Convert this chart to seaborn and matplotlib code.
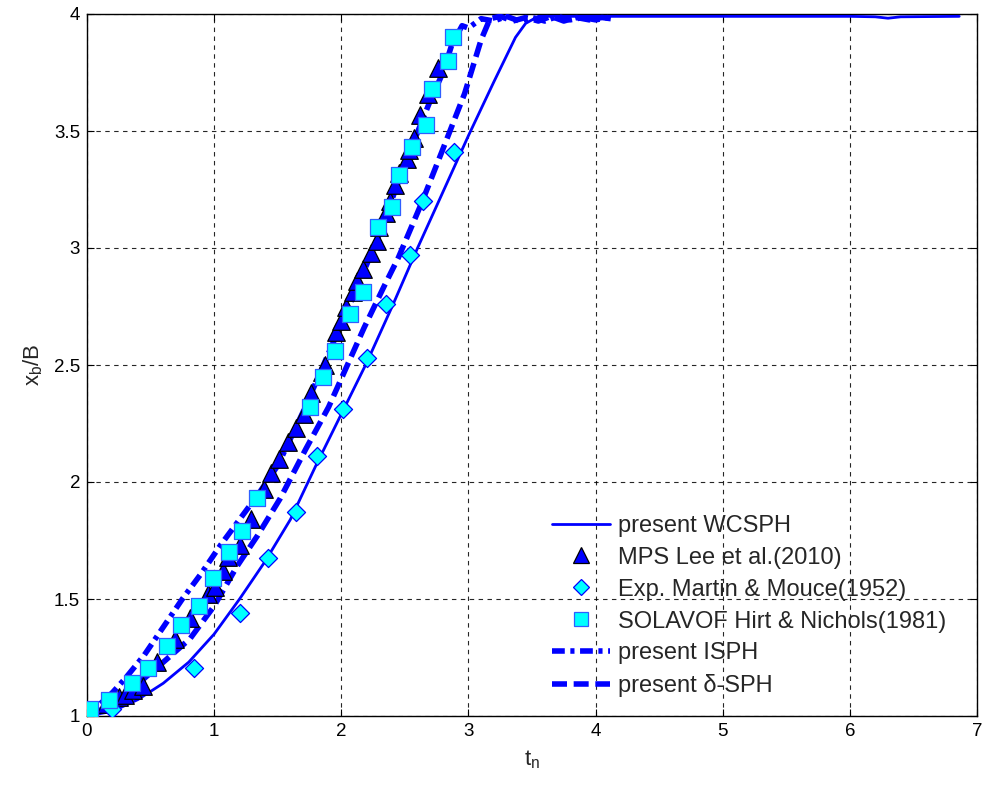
import matplotlib
matplotlib.use("Agg")
import matplotlib.pyplot as plt
import seaborn as sns
import pandas as pd
from matplotlib.lines import Line2D
from matplotlib.ticker import FuncFormatter

# ---------------- data ----------------
wcsph_x = [0, 0.2, 0.4, 0.6, 0.8, 1.0, 1.2, 1.4, 1.6, 1.8, 2.0, 2.2, 2.4, 2.6, 2.8, 3.0, 3.2, 3.37, 3.45, 3.55,
           4.0, 5.0, 6.0, 6.2, 6.3, 6.4, 6.86]
wcsph_y = [1.00, 1.02, 1.07, 1.14, 1.23, 1.35, 1.50, 1.66, 1.84, 2.07, 2.29, 2.51, 2.75, 3.00, 3.24, 3.48, 3.71, 3.90, 3.96, 3.99,
           3.99, 3.99, 3.99, 3.988, 3.982, 3.988, 3.99]

isph_x = [0, 0.1, 0.2, 0.3, 0.45, 0.6, 0.75, 0.9, 1.05, 1.2, 1.35, 1.5, 1.7, 1.9, 2.1, 2.3, 2.5, 2.7, 2.8, 2.87, 2.95,
          3.0, 3.05, 3.1, 3.2, 3.3, 3.4, 3.5, 3.6, 3.7, 3.8, 3.9, 4.0, 4.1]
isph_y = [1.0, 1.05, 1.10, 1.16, 1.26, 1.38, 1.50, 1.61, 1.73, 1.84, 1.95, 2.07, 2.30, 2.55, 2.80, 3.06, 3.36, 3.63, 3.75, 3.87, 3.95,
          3.94, 3.96, 3.98, 3.97, 3.99, 3.97, 3.985, 3.97, 3.99, 3.975, 3.985, 3.975, 3.985]

dsph_x = [0, 0.15, 0.34, 0.6, 0.81, 1.0, 1.18, 1.34, 1.52, 1.72, 1.90, 2.04, 2.18, 2.34, 2.45, 2.63, 2.79, 2.97, 3.10, 3.17,
          3.25, 3.35, 3.45, 3.55, 3.65, 3.75, 3.85, 3.95, 4.05, 4.12]
dsph_y = [1.0, 1.04, 1.11, 1.23, 1.33, 1.47, 1.64, 1.77, 1.93, 2.14, 2.32, 2.49, 2.66, 2.84, 2.96, 3.19, 3.41, 3.66, 3.89, 3.98,
          3.99, 3.97, 3.985, 3.97, 3.99, 3.97, 3.985, 3.975, 3.985, 3.98]

mps_x = [0.02, 0.15, 0.25, 0.30, 0.36, 0.44, 0.55, 0.69, 0.81, 0.95, 1.01, 1.07, 1.11, 1.20, 1.29, 1.39, 1.45, 1.51,
         1.58, 1.64, 1.71, 1.76, 1.85, 1.87, 1.96, 2.00, 2.04, 2.09, 2.12, 2.17, 2.23, 2.28, 2.30, 2.35, 2.38, 2.42,
         2.45, 2.52, 2.53, 2.57, 2.62, 2.68, 2.76]
mps_y = [1.01, 1.05, 1.08, 1.09, 1.11, 1.13, 1.23, 1.33, 1.42, 1.52, 1.55, 1.62, 1.68, 1.73, 1.84, 1.97, 2.04, 2.10,
         2.17, 2.23, 2.29, 2.38, 2.47, 2.50, 2.64, 2.69, 2.75, 2.81, 2.86, 2.91, 2.98, 3.03, 3.09, 3.15, 3.20, 3.27,
         3.32, 3.38, 3.42, 3.47, 3.57, 3.66, 3.77]

exp_x = [0.2, 0.84, 1.2, 1.42, 1.64, 1.81, 2.01, 2.20, 2.35, 2.54, 2.64, 2.89]
exp_y = [1.03, 1.205, 1.44, 1.675, 1.87, 2.11, 2.31, 2.53, 2.76, 2.97, 3.20, 3.41]

vof_x = [0.02, 0.17, 0.355, 0.48, 0.63, 0.74, 0.88, 0.99, 1.12, 1.22, 1.34, 1.75, 1.86, 1.95, 2.07, 2.17, 2.29,
         2.40, 2.45, 2.56, 2.67, 2.71, 2.84, 2.88]
vof_y = [1.03, 1.07, 1.14, 1.205, 1.30, 1.39, 1.47, 1.59, 1.70, 1.79, 1.93, 2.32, 2.45, 2.56, 2.72, 2.81, 3.09,
         3.175, 3.31, 3.43, 3.525, 3.68, 3.80, 3.90]

labels = ["present WCSPH", "MPS Lee et al.(2010)", "Exp. Martin & Mouce(1952)",
          "SOLAVOF Hirt & Nichols(1981)", "present ISPH", "present δ-SPH"]
x_ticks = [0, 1, 2, 3, 4, 5, 6, 7]
y_ticks = [1, 1.5, 2, 2.5, 3, 3.5, 4]

# ---------------- style ----------------
sns.set_theme(style="white")
plt.rcParams['font.family'] = ['Liberation Sans', 'DejaVu Sans']
plt.rcParams['mathtext.default'] = 'regular'

BLUE = "#0000FF"
CYAN = "#00FFFF"
LW_THICK = 4.0
DASHDOT = (0, (2.3, 1.0, 0.75, 1.0))
DASHED = (0, (2.7, 1.2))

fig = plt.figure(figsize=(9.85, 7.86), dpi=100)
ax = fig.add_axes([87/985, 1 - 716/786, (977 - 87)/985, (716 - 14)/786])

df_w = pd.DataFrame({"x": wcsph_x, "y": wcsph_y})
df_i = pd.DataFrame({"x": isph_x, "y": isph_y})
df_d = pd.DataFrame({"x": dsph_x, "y": dsph_y})

sns.lineplot(data=df_w, x="x", y="y", ax=ax, color=BLUE, lw=2, sort=False, estimator=None, zorder=3)
sns.lineplot(data=df_i, x="x", y="y", ax=ax, color=BLUE, lw=LW_THICK, sort=False, estimator=None,
             zorder=3, linestyle=DASHDOT)
sns.lineplot(data=df_d, x="x", y="y", ax=ax, color=BLUE, lw=LW_THICK, sort=False, estimator=None,
             zorder=3, linestyle=DASHED)

sns.scatterplot(x=mps_x, y=mps_y, ax=ax, marker="^", s=160, color=BLUE, edgecolor="black",
                linewidth=0.9, zorder=4)
sns.scatterplot(x=exp_x, y=exp_y, ax=ax, marker="D", s=85, color=CYAN, edgecolor=BLUE,
                linewidth=0.9, zorder=5)
sns.scatterplot(x=vof_x, y=vof_y, ax=ax, marker="s", s=135, color=CYAN, edgecolor="#2f5fff",
                linewidth=0.9, zorder=6)

ax.set_xlim(0, 7)
ax.set_ylim(1, 4)
ax.set_xticks(x_ticks)
ax.set_yticks(y_ticks)
ax.yaxis.set_major_formatter(FuncFormatter(lambda v, p: f"{v:g}"))
ax.xaxis.set_major_formatter(FuncFormatter(lambda v, p: f"{v:g}"))
ax.tick_params(direction="in", length=5, width=0.8, colors="black", labelsize=13.5,
               top=True, right=True, bottom=True, left=True, pad=5)
ax.grid(True, color="black", linestyle=(0, (4, 4)), linewidth=0.8, alpha=0.85)
for s in ax.spines.values():
    s.set_color("black")
    s.set_linewidth(1.0)
    s.set_visible(True)

ax.set_xlabel(r"$t_n$", fontsize=16, labelpad=6)
ax.set_ylabel(r"$x_b/B$", fontsize=16, labelpad=6)

handles = [
    Line2D([], [], color=BLUE, lw=2),
    Line2D([], [], ls="none", marker="^", ms=11, mfc=BLUE, mec="black", mew=0.9),
    Line2D([], [], ls="none", marker="D", ms=8.5, mfc=CYAN, mec=BLUE, mew=0.9),
    Line2D([], [], ls="none", marker="s", ms=10, mfc=CYAN, mec="#2f5fff", mew=0.9),
    Line2D([], [], color=BLUE, lw=LW_THICK, linestyle=DASHDOT),
    Line2D([], [], color=BLUE, lw=LW_THICK, linestyle=DASHED),
]
leg = ax.legend(handles, labels, loc="lower right", bbox_to_anchor=(0.984, 0.003), frameon=False,
                fontsize=17, handlelength=2.45, handletextpad=0.35, labelspacing=0.42,
                borderaxespad=0.3)

fig.savefig("out.png", dpi=100)
